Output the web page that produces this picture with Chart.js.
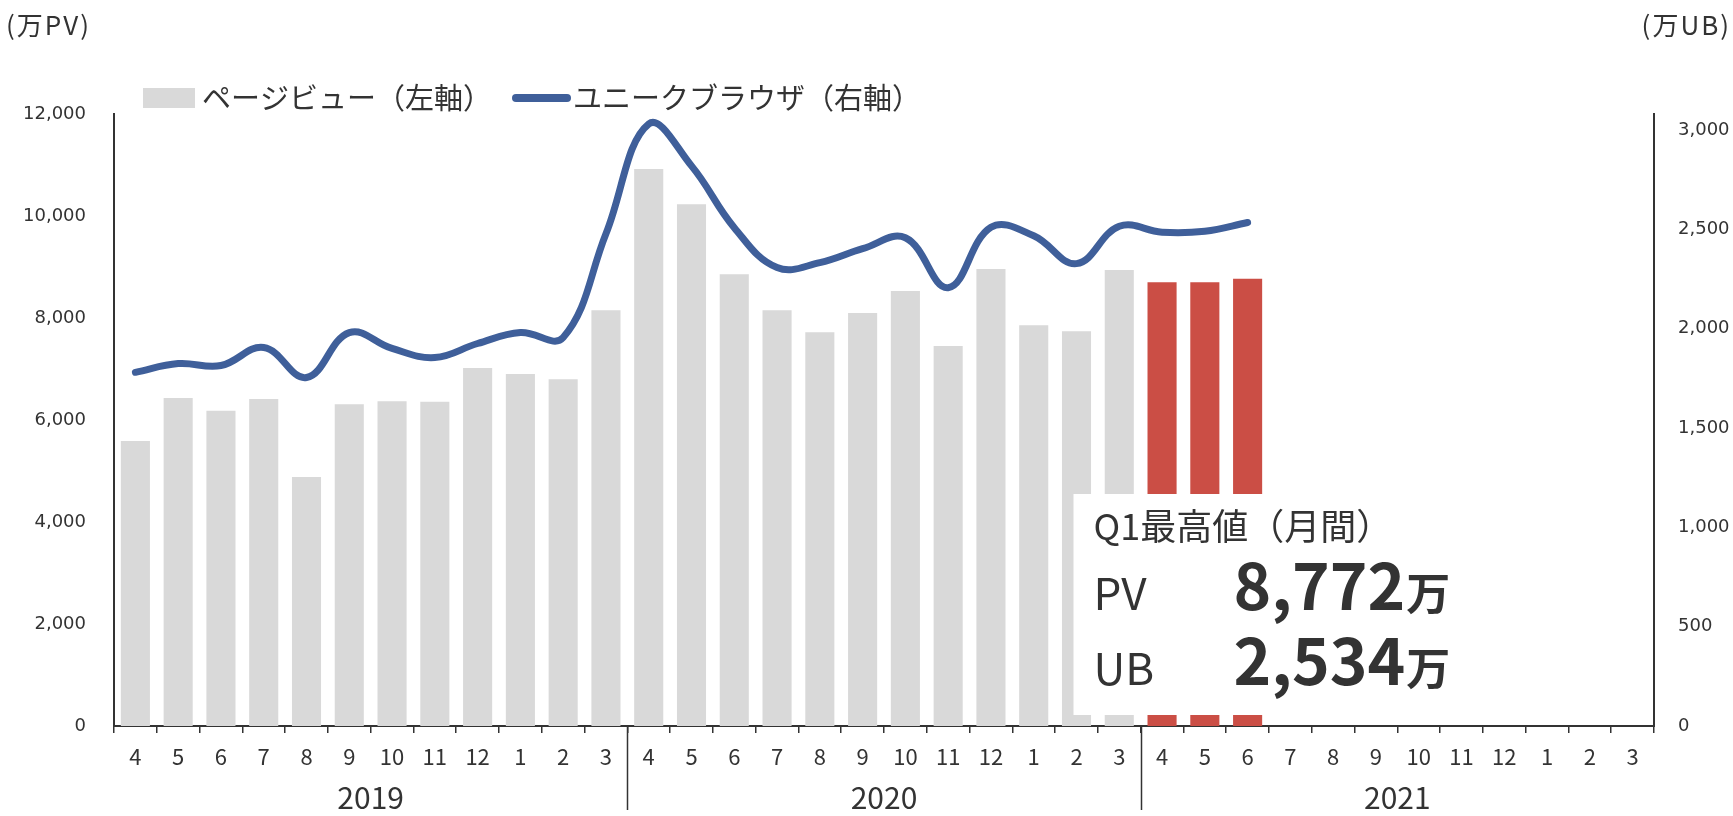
<!DOCTYPE html>
<html lang="ja">
<head>
<meta charset="utf-8">
<title>ページビュー・ユニークブラウザ推移</title>
<script src="https://cdn.jsdelivr.net/npm/chart.js@4.4.1/dist/chart.umd.min.js"></script>
<style>
  html, body { margin: 0; padding: 0; background: #fff; }
  #wrap { width: 1733px; height: 816px; }
</style>
</head>
<body>
<div id="wrap"><canvas id="pvChart" width="1733" height="816"></canvas></div>
<script>
// 年度ごとの月ラベル（4月〜翌3月）
const fiscalMonths = ['4', '5', '6', '7', '8', '9', '10', '11', '12', '1', '2', '3'];
const years = ['2019', '2020', '2021'];
const monthLabels = years.flatMap(() => fiscalMonths);

// ページビュー（万PV）
const pageViews = [5590, 6430, 6180, 6410, 4880, 6310, 6370, 6360, 7020, 6900, 6800, 8150,
                   10920, 10230, 8860, 8150, 7720, 8100, 8530, 7450, 8960, 7860, 7740, 8940,
                   8700, 8700, 8772];
// ユニークブラウザ（万UB）
const uniqueBrowsers = [1780, 1824, 1814, 1905, 1754, 1980, 1900, 1854, 1925, 1980, 1955, 2477,
                        3030, 2819, 2508, 2307, 2332, 2402, 2457, 2206, 2510, 2467, 2327, 2515,
                        2485, 2490, 2534];
const highlightFrom = 24;   // 2021年度 Q1
const q1Best = { pv: '8,772', ub: '2,534' };

const leftTicks = [0, 2000, 4000, 6000, 8000, 10000, 12000];
const rightTicks = [0, 500, 1000, 1500, 2000, 2500, 3000];

const GRAY = '#d9d9d9';
const RED = '#cb4e45';
const BLUE = '#3f5f9a';
const INK = '#333333';
const JP = "'Noto Sans CJK JP', 'Noto Sans', sans-serif";

const barColors = pageViews.map((_, i) => i >= highlightFrom ? RED : GRAY);

// 凡例・単位・年度ラベル・注記ボックス
const decorations = {
  id: 'decorations',
  afterDatasetsDraw(chart) {
    const { ctx, scales } = chart;
    const x = scales.x;
    ctx.save();

    // 注記ボックス
    const bx = x.getPixelForValue(22) - 3;
    const by = 494;
    ctx.fillStyle = '#fff';
    ctx.fillRect(bx, by, 400, 221);

    ctx.fillStyle = INK;
    ctx.textAlign = 'left';
    ctx.textBaseline = 'alphabetic';
    ctx.font = `36px ${JP}`;
    ctx.fillText('Q1最高値（月間）', bx + 20, 540);
    ctx.font = `44px ${JP}`;
    ctx.fillText('PV', bx + 20, 610);
    ctx.fillText('UB', bx + 20, 685);

    const rows = [[q1Best.pv, 610], [q1Best.ub, 685]];
    rows.forEach(([num, base]) => {
      ctx.font = `bold 64px ${JP}`;
      ctx.fillText(num, bx + 160, base);
      const w = ctx.measureText(num).width;
      ctx.font = `bold 44px ${JP}`;
      ctx.fillText('万', bx + 161 + w, base);
    });
    ctx.restore();
  },
  afterDraw(chart) {
    const { ctx, chartArea, scales } = chart;
    const x = scales.x;
    ctx.save();

    // 単位
    ctx.fillStyle = INK;
    ctx.font = `26px ${JP}`;
    ctx.textBaseline = 'middle';
    ctx.textAlign = 'left';
    ctx.letterSpacing = '2px';
    ctx.fillText('(万PV)', 6, 25);
    ctx.textAlign = 'right';
    ctx.fillText('(万UB)', 1731, 25);
    ctx.letterSpacing = '0px';

    // 凡例
    const ds = chart.data.datasets;
    const ly = 98;
    ctx.textAlign = 'left';
    ctx.font = `29px ${JP}`;
    ctx.fillStyle = GRAY;
    ctx.fillRect(143, ly - 10, 52, 20);
    ctx.fillStyle = INK;
    ctx.fillText(ds[1].label, 202, ly);
    ctx.strokeStyle = BLUE;
    ctx.lineWidth = 8;
    ctx.lineCap = 'round';
    ctx.beginPath();
    ctx.moveTo(516, ly);
    ctx.lineTo(567, ly);
    ctx.stroke();
    ctx.fillText(ds[0].label, 573, ly);

    // 年度区切りと年度ラベル
    const bound = i => (x.getPixelForValue(i - 1) + x.getPixelForValue(i)) / 2;
    ctx.strokeStyle = INK;
    ctx.lineWidth = 1.5;
    ctx.lineCap = 'butt';
    [12, 24].forEach(i => {
      const px = Math.round(bound(i)) + 0.5;
      ctx.beginPath();
      ctx.moveTo(px, chartArea.bottom);
      ctx.lineTo(px, 810);
      ctx.stroke();
    });
    ctx.font = `30px ${JP}`;
    ctx.textAlign = 'center';
    years.forEach((yr, k) => {
      const a = k === 0 ? chartArea.left : bound(k * 12);
      const b = k === years.length - 1 ? chartArea.right : bound((k + 1) * 12);
      ctx.fillText(yr, (a + b) / 2, 798);
    });
    ctx.restore();
  }
};

const tickFont = { family: "'DejaVu Sans', sans-serif", size: 18 };

new Chart(document.getElementById('pvChart'), {
  data: {
    labels: monthLabels,
    datasets: [
      {
        type: 'line',
        label: 'ユニークブラウザ（右軸）',
        data: uniqueBrowsers,
        yAxisID: 'yR',
        borderColor: BLUE,
        borderWidth: 7,
        borderCapStyle: 'round',
        borderJoinStyle: 'round',
        pointRadius: 0,
        tension: 0.4,
        order: 0
      },
      {
        type: 'bar',
        label: 'ページビュー（左軸）',
        data: pageViews,
        yAxisID: 'yL',
        backgroundColor: barColors,
        barPercentage: 1,
        categoryPercentage: 0.68,
        order: 1
      }
    ]
  },
  options: {
    responsive: false,
    animation: false,
    layout: { padding: { top: 114, left: 0, right: 0, bottom: 0 } },
    plugins: { legend: { display: false }, tooltip: { enabled: false } },
    scales: {
      x: {
        type: 'category',
        offset: true,
        grid: { offset: true, drawOnChartArea: false, drawTicks: true, tickLength: 7, color: INK, lineWidth: 1.5 },
        border: { display: true, color: INK, width: 2 },
        ticks: { color: INK, font: { family: JP, size: 22 }, padding: 10, maxRotation: 0, autoSkip: false },
        afterFit: s => { s.height = 90; }
      },
      yL: {
        position: 'left',
        min: leftTicks[0],
        max: leftTicks[leftTicks.length - 1],
        grid: { display: false, drawTicks: false },
        border: { display: true, color: INK, width: 2 },
        ticks: { stepSize: 2000, padding: 28, color: INK, font: tickFont, callback: v => v.toLocaleString('en-US') },
        afterBuildTicks: s => { s.ticks = leftTicks.map(v => ({ value: v })); },
        afterFit: s => { s.width = 114; }
      },
      yR: {
        position: 'right',
        min: rightTicks[0],
        max: 3080,
        grid: { display: false, drawTicks: false },
        border: { display: true, color: INK, width: 2 },
        ticks: { stepSize: 500, padding: 24, color: INK, font: tickFont, callback: v => v.toLocaleString('en-US') },
        afterBuildTicks: s => { s.ticks = rightTicks.map(v => ({ value: v })); },
        afterFit: s => { s.width = 79; }
      }
    }
  },
  plugins: [decorations]
});
</script>
</body>
</html>
